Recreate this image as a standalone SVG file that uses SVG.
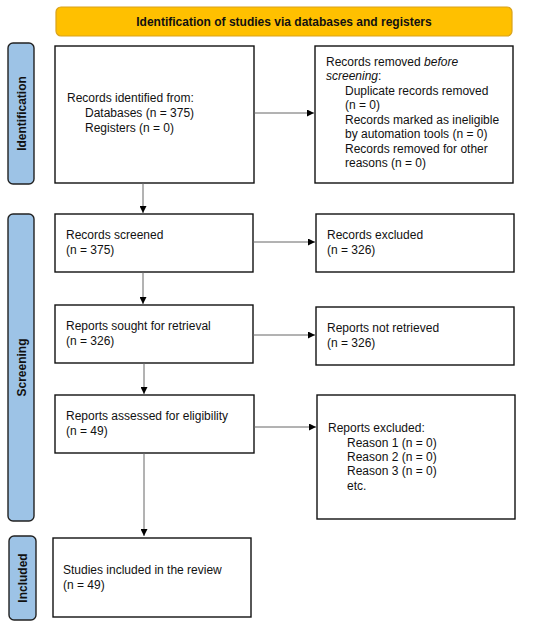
<svg xmlns="http://www.w3.org/2000/svg" width="550" height="627" viewBox="0 0 550 627">
<style>
text{font-family:"Liberation Sans",Arial,sans-serif;font-size:12px;fill:#111}
.box{fill:#fff;stroke:#111;stroke-width:1.4}
.side{fill:#9dc3e6;stroke:#222;stroke-width:1.4}
.sl{font-weight:bold;text-anchor:middle}
.con{stroke:#666;stroke-width:1;fill:none;marker-end:url(#ah)}
</style>
<defs>
<marker id="ah" viewBox="0 0 10 10" refX="10" refY="5" markerWidth="7" markerHeight="7" markerUnits="userSpaceOnUse" orient="auto">
<path d="M0,0 L10,5 L0,10 z" fill="#000"/>
</marker>
</defs>
<rect width="550" height="627" fill="#fff"/>
<g id="header">
<rect x="56" y="7" width="456" height="29" rx="5" fill="#ffc000" stroke="#d9a21b" stroke-width="1.2"/>
<text x="284" y="26" text-anchor="middle" font-weight="bold">Identification of studies via databases and registers</text>
</g>
<g id="side-identification">
<rect class="side" x="8" y="43" width="26" height="141" rx="5"/>
<text class="sl" transform="translate(25.5,113.5) rotate(-90)">Identification</text>
</g>
<g id="side-screening">
<rect class="side" x="8" y="214" width="26" height="307" rx="5"/>
<text class="sl" transform="translate(25.5,367.5) rotate(-90)">Screening</text>
</g>
<g id="side-included">
<rect class="side" x="9" y="536" width="27" height="84" rx="5"/>
<text class="sl" transform="translate(26.5,578) rotate(-90)">Included</text>
</g>
<g id="records-identified">
<rect class="box" x="55" y="46" width="199" height="137"/>
<text x="67" y="102">Records identified from:</text>
<text x="85" y="117">Databases (n = 375)</text>
<text x="85" y="131.5">Registers (n = 0)</text>
</g>
<g id="records-removed">
<rect class="box" x="315" y="46" width="198" height="137"/>
<text x="326" y="66">Records removed <tspan font-style="italic">before</tspan></text>
<text x="326" y="80"><tspan font-style="italic">screening</tspan>:</text>
<text x="345" y="94.5">Duplicate records removed</text>
<text x="345" y="109">(n = 0)</text>
<text x="345" y="123.5">Records marked as ineligible</text>
<text x="345" y="138">by automation tools (n = 0)</text>
<text x="345" y="152.5">Records removed for other</text>
<text x="345" y="167">reasons (n = 0)</text>
</g>
<g id="records-screened">
<rect class="box" x="55" y="214" width="198" height="58"/>
<text x="66" y="239">Records screened</text>
<text x="66" y="254">(n = 375)</text>
</g>
<g id="records-excluded">
<rect class="box" x="316" y="214" width="198" height="58"/>
<text x="327" y="239">Records excluded</text>
<text x="327" y="254">(n = 326)</text>
</g>
<g id="reports-sought">
<rect class="box" x="55" y="305" width="198" height="58"/>
<text x="66" y="330">Reports sought for retrieval</text>
<text x="66" y="345">(n = 326)</text>
</g>
<g id="reports-not-retrieved">
<rect class="box" x="316" y="307" width="198" height="58"/>
<text x="327" y="332">Reports not retrieved</text>
<text x="327" y="347">(n = 326)</text>
</g>
<g id="reports-assessed">
<rect class="box" x="55" y="395" width="199" height="58"/>
<text x="66" y="420">Reports assessed for eligibility</text>
<text x="66" y="435">(n = 49)</text>
</g>
<g id="reports-excluded">
<rect class="box" x="317" y="395" width="198" height="124"/>
<text x="328" y="432">Reports excluded:</text>
<text x="347" y="447">Reason 1 (n = 0)</text>
<text x="347" y="461">Reason 2 (n = 0)</text>
<text x="347" y="475">Reason 3 (n = 0)</text>
<text x="347" y="490">etc.</text>
</g>
<g id="studies-included">
<rect class="box" x="53" y="538" width="198" height="79"/>
<text x="63" y="574">Studies included in the review</text>
<text x="63" y="589">(n = 49)</text>
</g>
<g id="connectors">
<path class="con" d="M254,113 H314"/>
<path class="con" d="M143,183 V213"/>
<path class="con" d="M253,242 H315"/>
<path class="con" d="M143,272 V304"/>
<path class="con" d="M253,335 H315"/>
<path class="con" d="M144,363 V394"/>
<path class="con" d="M254,427 H316"/>
<path class="con" d="M144,453 V536"/>
</g>
</svg>
